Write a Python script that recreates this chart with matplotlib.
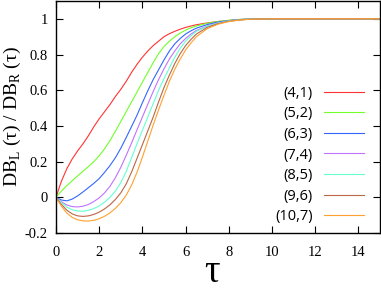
import matplotlib
matplotlib.use('Agg')
import matplotlib.pyplot as plt

plt.rcParams['font.family'] = ['Liberation Serif', 'DejaVu Serif']
plt.rcParams['mathtext.fontset'] = 'custom'
plt.rcParams['mathtext.rm'] = 'Liberation Serif'
plt.rcParams['axes.unicode_minus'] = False

# tau grid (step 0.25 up to 6.5, then coarser where the curves are flat)
tau = [0, 0.25, 0.5, 0.75, 1.0, 1.25, 1.5, 1.75, 2.0, 2.25, 2.5, 2.75, 3.0,
       3.25, 3.5, 3.75, 4.0, 4.25, 4.5, 4.75, 5.0, 5.25, 5.5, 5.75, 6.0,
       6.25, 6.5, 7.0, 7.5, 8.0, 8.5, 9.0, 10.0, 15.0]

ratio_4_1 = [0, 0.09, 0.16, 0.215, 0.26, 0.30, 0.345, 0.395, 0.44, 0.48, 0.52,
             0.565, 0.605, 0.65, 0.70, 0.745, 0.785, 0.82, 0.85, 0.875, 0.90,
             0.917, 0.93, 0.942, 0.952, 0.96, 0.967, 0.977, 0.985, 0.991,
             0.996, 0.999, 1.0, 1.0]
ratio_5_2 = [0, 0.035, 0.065, 0.093, 0.12, 0.146, 0.172, 0.2, 0.233, 0.272,
             0.318, 0.37, 0.425, 0.48, 0.535, 0.59, 0.645, 0.70, 0.755, 0.805,
             0.845, 0.875, 0.90, 0.92, 0.937, 0.95, 0.96, 0.975, 0.985, 0.992,
             0.997, 0.999, 1.0, 1.0]
ratio_6_3 = [0, -0.015, -0.02, -0.01, 0.008, 0.03, 0.054, 0.078, 0.105, 0.14,
             0.178, 0.222, 0.275, 0.335, 0.397, 0.46, 0.53, 0.597, 0.66, 0.715,
             0.77, 0.82, 0.86, 0.89, 0.915, 0.933, 0.948, 0.968, 0.982, 0.99,
             0.996, 0.999, 1.0, 1.0]
ratio_7_4 = [0, -0.025, -0.043, -0.052, -0.054, -0.05, -0.04, -0.024, -0.003,
             0.025, 0.062, 0.11, 0.168, 0.235, 0.305, 0.378, 0.45, 0.522,
             0.593, 0.66, 0.72, 0.775, 0.82, 0.86, 0.89, 0.915, 0.935, 0.96,
             0.978, 0.989, 0.995, 0.999, 1.0, 1.0]
ratio_8_5 = [0, -0.03, -0.055, -0.07, -0.077, -0.078, -0.073, -0.063, -0.048,
             -0.027, 0.0, 0.035, 0.082, 0.145, 0.222, 0.30, 0.375, 0.45, 0.525,
             0.60, 0.665, 0.725, 0.785, 0.835, 0.875, 0.905, 0.93, 0.958,
             0.976, 0.988, 0.995, 0.999, 1.0, 1.0]
ratio_9_6 = [0, -0.04, -0.072, -0.093, -0.104, -0.107, -0.104, -0.096, -0.083,
             -0.065, -0.042, -0.012, 0.025, 0.075, 0.142, 0.218, 0.295, 0.372,
             0.45, 0.535, 0.615, 0.685, 0.75, 0.805, 0.85, 0.885, 0.915, 0.952,
             0.973, 0.986, 0.994, 0.998, 1.0, 1.0]
ratio_10_7 = [0, -0.05, -0.088, -0.113, -0.126, -0.132, -0.133, -0.129, -0.12,
              -0.106, -0.087, -0.062, -0.03, 0.012, 0.068, 0.14, 0.225, 0.315,
              0.405, 0.49, 0.572, 0.65, 0.718, 0.775, 0.825, 0.865, 0.9, 0.945,
              0.97, 0.985, 0.993, 0.998, 1.0, 1.0]

labels = ['(4,1)', '(5,2)', '(6,3)', '(7,4)', '(8,5)', '(9,6)', '(10,7)']
series = [ratio_4_1, ratio_5_2, ratio_6_3, ratio_7_4, ratio_8_5, ratio_9_6, ratio_10_7]
colors = ['#ff3333', '#70ff2a', '#3366ff', '#bf73ff', '#66ffd0', '#bb6644', '#ffa030']

xticks = [0, 2, 4, 6, 8, 10, 12, 14]
yticks = [-0.2, 0, 0.2, 0.4, 0.6, 0.8, 1]
ytick_labels = ['-0.2', '0', '0.2', '0.4', '0.6', '0.8', '1']

fig = plt.figure(figsize=(3.81, 2.90), dpi=100)
ax = fig.add_axes([56 / 381, 57 / 290, 324 / 381, 232 / 290])

for vals, lab, col in zip(series, labels, colors):
    ax.plot(tau, vals, color=col, lw=0.8, label=lab)

ax.set_xlim(0, 15)
ax.set_ylim(-0.2, 1.1)
ax.set_xticks(xticks)
ax.set_xticklabels([str(t) for t in xticks])
ax.set_yticks(yticks)
ax.set_yticklabels(ytick_labels)
ax.tick_params(direction='in', length=5, width=0.8, top=True, right=True,
               labelsize=10.5)
ax.tick_params(axis='x', pad=9)
ax.tick_params(axis='y', pad=6)
for sp in ax.spines.values():
    sp.set_linewidth(1.0)

ax.set_xlabel('τ', fontsize=28, labelpad=-3)
ax.xaxis.label.set_x(0.481)
ax.set_ylabel('DB$_\\mathrm{L}$ (τ) / DB$_\\mathrm{R}$ (τ)', fontsize=14, labelpad=1)

leg = ax.legend(markerfirst=False, frameon=False, loc='lower right',
                bbox_to_anchor=(0.969, 0.013), handlelength=2.75,
                handletextpad=0.75, labelspacing=0.38, borderaxespad=0,
                prop={'family': 'Open Sans', 'size': 10.5})

fig.savefig('out.png', dpi=100)
